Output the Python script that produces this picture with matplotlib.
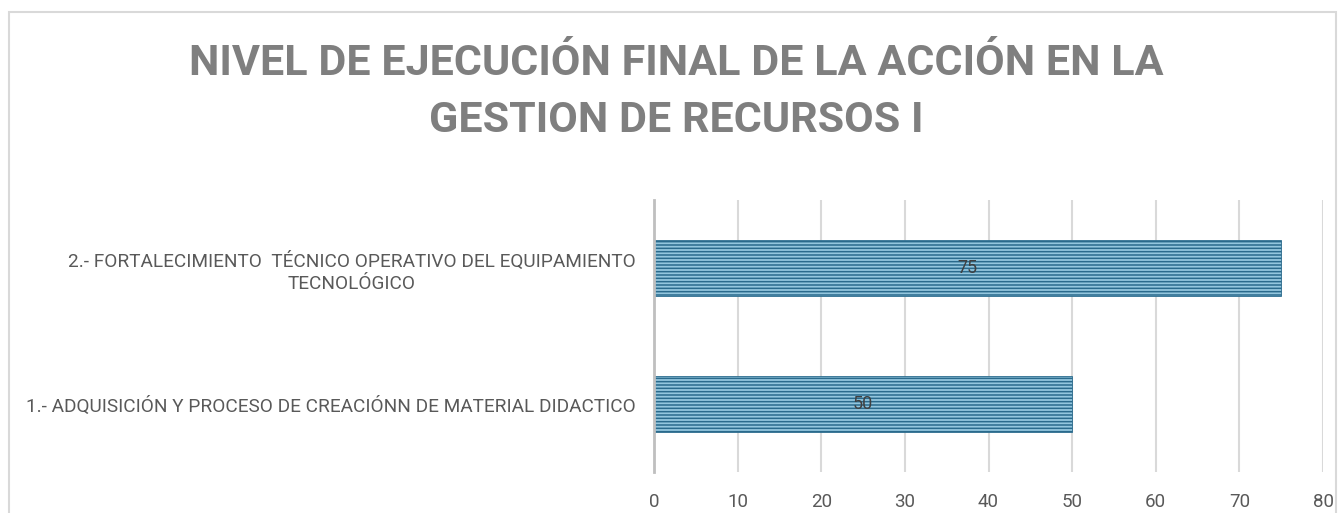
import matplotlib.pyplot as plt
from matplotlib.patches import Rectangle

# data
categories = ['1.- ADQUISICIÓN Y PROCESO DE CREACIÓNN DE MATERIAL DIDACTICO',
              '2.- FORTALECIMIENTO  TÉCNICO OPERATIVO DEL EQUIPAMIENTO\nTECNOLÓGICO']
values = [50, 75]
xticks = [0, 10, 20, 30, 40, 50, 60, 70, 80]
title = 'NIVEL DE EJECUCIÓN FINAL DE LA ACCIÓN EN LA\nGESTION DE RECURSOS I'

plt.rcParams['hatch.linewidth'] = 1.1

fig = plt.figure(figsize=(13.38, 5.13), dpi=100)
# outer chart border
fig.patches.append(Rectangle((9 / 1338, -0.05), 1327 / 1338, 1.05 - 12 / 513,
                             transform=fig.transFigure, fill=False,
                             edgecolor='#d9d9d9', linewidth=1.5))

ax = fig.add_axes([654 / 1338, 1 - 472 / 513, 669 / 1338, 272 / 513])
ypos = range(len(categories))
ax.barh(ypos, values, height=0.41, color='#93c6de', edgecolor='#2a6a8c',
        hatch='-----', linewidth=0.6, zorder=3)
for y, v in zip(ypos, values):
    ax.text(v / 2, y, str(v), ha='center', va='center', fontsize=13,
            color='#404040', family='Roboto', zorder=4)

ax.set_xlim(0, 80)
ax.set_ylim(-0.5, 1.5)
ax.set_xticks(xticks)
ax.set_yticks(list(ypos))
ax.set_yticklabels(categories, fontsize=13.7, color='#595959', family='Roboto',
                   linespacing=1.3)
for lab in ax.get_yticklabels():
    lab.set_multialignment('center')
ax.tick_params(axis='y', length=0, pad=13)
ax.tick_params(axis='x', length=0, pad=15, labelsize=13.5, labelcolor='#595959')
for lab in ax.get_xticklabels():
    lab.set_family('Roboto')
ax.grid(axis='x', color='#d9d9d9', linewidth=1.5, zorder=0)
for s in ['top', 'right', 'bottom']:
    ax.spines[s].set_visible(False)
ax.spines['left'].set_color('#bfbfbf')
ax.spines['left'].set_linewidth(2)
ax.spines['left'].set_zorder(5)

fig.text(676 / 1338, 1 - 92 / 513, title, ha='center', va='center',
         fontsize=31, fontweight='bold', color='#7f7f7f',
         family='Roboto', linespacing=1.5)

fig.savefig('out.png', dpi=100)
